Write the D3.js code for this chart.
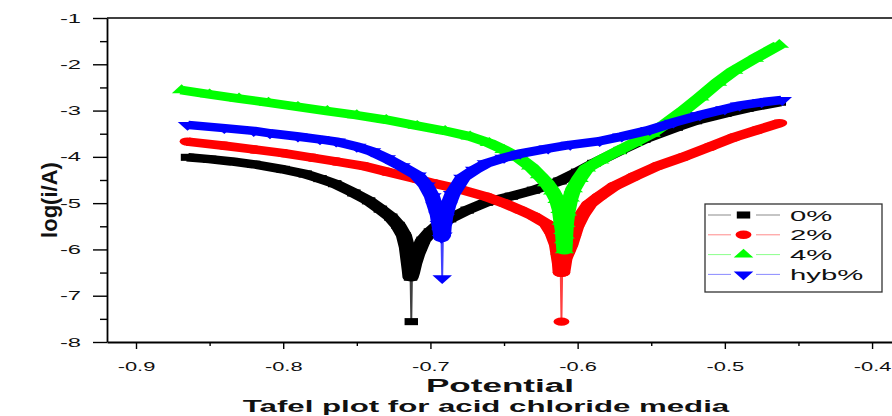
<!DOCTYPE html>
<html>
<head>
<meta charset="utf-8">
<script src="https://cdn.jsdelivr.net/npm/d3@7"></script>
<style>
  body { margin: 0; background: #fff; }
  svg { display: block; }
  text { font-family: "Liberation Sans", Arial, sans-serif; }
</style>
</head>
<body>
<svg id="chart" width="892" height="416"></svg>
<script>
// Axis ticks
const xTicks = [-0.9, -0.8, -0.7, -0.6, -0.5, -0.4];
const xMinorTicks = [-0.85, -0.75, -0.65, -0.55, -0.45];
const yTicks = [-1, -2, -3, -4, -5, -6, -7, -8];
const yMinorTicks = [-1.5, -2.5, -3.5, -4.5, -5.5, -6.5, -7.5];

// Legend entries
const seriesNames = ["0%", "2%", "4%", "hyb%"];
const seriesColors = ["#000000", "#ff0000", "#00ff00", "#0000ff"];
const seriesSymbols = ["square", "circle", "triangle", "triangleDown"];

// Polarisation scans: [potential, log(i/A)]
const scan0 = [
  [-0.865, -4.01], [-0.85, -4.05], [-0.835, -4.10], [-0.82, -4.16], [-0.80, -4.27],
  [-0.785, -4.37], [-0.775, -4.47], [-0.765, -4.58], [-0.752, -4.78], [-0.742, -4.95],
  [-0.734, -5.13], [-0.727, -5.30], [-0.722, -5.48], [-0.718, -5.70], [-0.716, -5.95],
  [-0.715, -6.20], [-0.714, -6.45], [-0.7135, -6.60], [-0.713, -7.56], [-0.7125, -6.50],
  [-0.711, -6.30], [-0.709, -6.10], [-0.707, -5.95], [-0.705, -5.80], [-0.700, -5.62],
  [-0.695, -5.48], [-0.687, -5.34], [-0.675, -5.15], [-0.662, -4.98], [-0.645, -4.85],
  [-0.63, -4.72], [-0.612, -4.52], [-0.60, -4.33], [-0.589, -4.14], [-0.571, -3.86],
  [-0.555, -3.62], [-0.533, -3.36], [-0.52, -3.22], [-0.50, -3.06], [-0.485, -2.95],
  [-0.463, -2.82]
];
const scan2 = [
  [-0.865, -3.67], [-0.84, -3.76], [-0.82, -3.84], [-0.80, -3.92], [-0.78, -4.02],
  [-0.764, -4.10], [-0.745, -4.20], [-0.73, -4.32], [-0.709, -4.48], [-0.698, -4.57],
  [-0.68, -4.70], [-0.662, -4.86], [-0.65, -5.00], [-0.639, -5.15], [-0.63, -5.28],
  [-0.621, -5.45], [-0.617, -5.65], [-0.614, -5.90], [-0.613, -6.10], [-0.612, -6.30],
  [-0.6115, -6.50], [-0.611, -7.56], [-0.6105, -6.50], [-0.609, -6.20], [-0.607, -6.05],
  [-0.605, -5.90], [-0.603, -5.70], [-0.601, -5.50], [-0.597, -5.25], [-0.592, -5.02],
  [-0.585, -4.85], [-0.575, -4.63], [-0.562, -4.43], [-0.546, -4.20], [-0.528, -4.00],
  [-0.51, -3.78], [-0.494, -3.58], [-0.478, -3.42], [-0.463, -3.27]
];
const scan4 = [
  [-0.869, -2.56], [-0.85, -2.65], [-0.83, -2.74], [-0.81, -2.83], [-0.79, -2.92],
  [-0.77, -3.01], [-0.75, -3.10], [-0.73, -3.20], [-0.709, -3.33], [-0.69, -3.44],
  [-0.673, -3.56], [-0.66, -3.70], [-0.65, -3.85], [-0.64, -4.02], [-0.632, -4.21],
  [-0.626, -4.40], [-0.621, -4.57], [-0.617, -4.75], [-0.614, -4.93], [-0.612, -5.15],
  [-0.611, -5.40], [-0.610, -5.60], [-0.6095, -5.80], [-0.609, -6.02], [-0.6085, -5.70],
  [-0.608, -5.45], [-0.607, -5.20], [-0.605, -4.90], [-0.603, -4.70], [-0.599, -4.48],
  [-0.594, -4.25], [-0.585, -4.08], [-0.573, -3.88], [-0.562, -3.70], [-0.55, -3.50],
  [-0.54, -3.28], [-0.528, -3.00], [-0.517, -2.72], [-0.505, -2.40], [-0.494, -2.14],
  [-0.48, -1.88], [-0.463, -1.58]
];
const scanHyb = [
  [-0.865, -3.31], [-0.84, -3.38], [-0.82, -3.44], [-0.809, -3.49], [-0.79, -3.56],
  [-0.775, -3.62], [-0.764, -3.67], [-0.75, -3.78], [-0.74, -3.88], [-0.73, -4.03],
  [-0.72, -4.20], [-0.709, -4.40], [-0.703, -4.62], [-0.699, -4.85], [-0.697, -5.05],
  [-0.695, -5.25], [-0.694, -5.45], [-0.693, -5.62], [-0.6925, -5.75], [-0.692, -6.62],
  [-0.6915, -5.70], [-0.691, -5.50], [-0.690, -5.30], [-0.688, -5.05], [-0.685, -4.80],
  [-0.678, -4.45], [-0.67, -4.28], [-0.662, -4.14], [-0.65, -4.02], [-0.639, -3.93],
  [-0.62, -3.82], [-0.605, -3.74], [-0.585, -3.66], [-0.57, -3.56], [-0.551, -3.42],
  [-0.535, -3.26], [-0.517, -3.10], [-0.50, -2.97], [-0.49, -2.89], [-0.475, -2.82],
  [-0.461, -2.77]
];
const scans = [scan0, scan2, scan4, scanHyb];

const svg = d3.select("#chart");
const plotLeft = 107, plotRight = 894, plotTop = 18, plotBottom = 342;
// horizontal stretch of glyphs and markers
const SX = 1.9;
const TS = 1.9;

const x = d3.scaleLinear().domain([-0.9197, -0.3851]).range([plotLeft, plotRight]);
const y = d3.scaleLinear().domain([-1, -8]).range([plotTop, plotBottom]);

// ---- axes ----
const axisColor = "#000";
const yAxis = svg.append("g").attr("transform", `translate(${plotLeft},0)`)
  .call(d3.axisLeft(y).tickValues(yTicks).tickSize(14).tickSizeOuter(0).tickPadding(12)
    .tickFormat(d => String(d)));
svg.append("g").attr("transform", `translate(${plotLeft},0)`)
  .call(d3.axisLeft(y).tickValues(yMinorTicks).tickSize(7).tickSizeOuter(0).tickFormat(""))
  .select(".domain").remove();

const xAxis = svg.append("g").attr("transform", `translate(0,${plotBottom})`)
  .call(d3.axisBottom(x).tickValues(xTicks).tickSize(7).tickSizeOuter(0).tickPadding(13)
    .tickFormat(d => String(d)));
svg.append("g").attr("transform", `translate(0,${plotBottom})`)
  .call(d3.axisBottom(x).tickValues(xMinorTicks).tickSize(4).tickSizeOuter(0).tickFormat(""))
  .select(".domain").remove();

svg.selectAll(".tick line").attr("stroke", axisColor).attr("stroke-width", 1.4);
svg.selectAll(".domain").attr("stroke", axisColor).attr("stroke-width", 1.8);

yAxis.selectAll(".tick text")
  .attr("font-size", 12.5).attr("fill", "#111")
  .attr("x", -26 / TS)
  .attr("transform", `scale(${TS},1)`);
xAxis.selectAll(".tick text")
  .attr("font-size", 12.5).attr("fill", "#111")
  .attr("transform", `scale(1.75,1)`);

// top frame line
svg.append("line")
  .attr("x1", plotLeft).attr("x2", plotRight).attr("y1", plotTop).attr("y2", plotTop)
  .attr("stroke", axisColor).attr("stroke-width", 1.6);

// ---- curves ----
const symbolOf = {
  square: d3.symbol().type(d3.symbolSquare).size(50),
  circle: d3.symbol().type(d3.symbolCircle).size(55),
  triangle: d3.symbol().type(d3.symbolTriangle).size(46),
  triangleDown: d3.symbol().type(d3.symbolTriangle).size(46)
};

const plot = svg.append("g").attr("transform", `scale(${SX},1)`);
const line = d3.line().x(d => x(d[0]) / SX).y(d => y(d[1]));

scans.forEach((data, i) => {
  const color = seriesColors[i];
  const g = plot.append("g");
  const iMin = d3.minIndex(data, d => d[1]);
  const isSpike = iMin > 0 && iMin < data.length - 1 &&
    data[iMin - 1][1] - data[iMin][1] > 0.5 && data[iMin + 1][1] - data[iMin][1] > 0.5;
  const band = isSpike ? data.filter((d, k) => k !== iMin) : data;

  // thin connecting line through every point
  g.append("path").datum(data).attr("d", line)
    .attr("fill", "none").attr("stroke", color).attr("stroke-width", 1).attr("opacity", 0.75);
  // dense scan band
  g.append("path").datum(band).attr("d", line)
    .attr("fill", "none").attr("stroke", color).attr("stroke-width", 8.5)
    .attr("stroke-linejoin", "round").attr("stroke-linecap", "butt");
  // markers
  const sym = seriesSymbols[i];
  g.selectAll("path.pt").data(data).join("path").attr("class", "pt")
    .attr("d", symbolOf[sym]())
    .attr("transform", d => `translate(${x(d[0]) / SX},${y(d[1])})` + (sym === "triangleDown" ? " rotate(180)" : ""))
    .attr("fill", color);
});

// ---- legend ----
const lg = svg.append("g");
lg.append("rect").attr("x", 705).attr("y", 204).attr("width", 177).attr("height", 88)
  .attr("fill", "#fff").attr("stroke", "#333").attr("stroke-width", 1.3);
seriesNames.forEach((name, i) => {
  const cy = 215 + i * 19.8;
  const color = seriesColors[i];
  lg.append("line").attr("x1", 708).attr("x2", 731).attr("y1", cy).attr("y2", cy)
    .attr("stroke", color).attr("stroke-width", 1).attr("opacity", 0.45);
  lg.append("line").attr("x1", 756).attr("x2", 780).attr("y1", cy).attr("y2", cy)
    .attr("stroke", color).attr("stroke-width", 1).attr("opacity", 0.45);
  const sym = seriesSymbols[i];
  lg.append("path").attr("d", symbolOf[sym]())
    .attr("transform", `translate(743.5,${cy}) scale(${SX},1)` + (sym === "triangleDown" ? " rotate(180)" : ""))
    .attr("fill", color);
  lg.append("text").attr("transform", `translate(790,${cy + 5.5}) scale(1.95,1)`)
    .attr("font-size", 15).attr("fill", "#111").text(name);
});

// ---- titles ----
svg.append("text")
  .attr("transform", `translate(49,200) rotate(-90)`)
  .attr("text-anchor", "middle").attr("dy", "0.35em")
  .attr("font-size", 22).attr("font-weight", "bold").attr("fill", "#111")
  .text("log(i/A)");

svg.append("text")
  .attr("transform", `translate(500,392) scale(1.95,1)`)
  .attr("text-anchor", "middle")
  .attr("font-size", 18).attr("font-weight", "bold").attr("fill", "#111")
  .text("Potential");

svg.append("text")
  .attr("transform", `translate(486,412) scale(1.95,1)`)
  .attr("text-anchor", "middle")
  .attr("font-size", 16).attr("font-weight", "bold").attr("fill", "#111")
  .text("Tafel plot for acid chloride media");
</script>
</body>
</html>
